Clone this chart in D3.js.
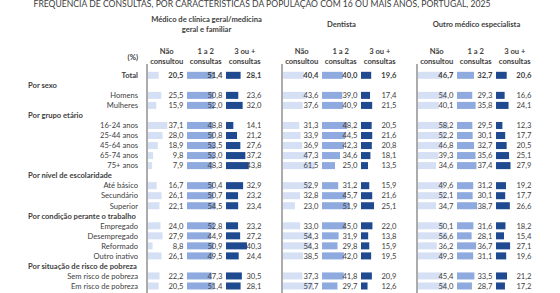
<!DOCTYPE html>
<html>
<head>
<meta charset="utf-8">
<script src="https://cdn.jsdelivr.net/npm/d3@7"></script>
<style>
    body { margin: 0; background: #fff; }
    text { font-family: Lato, "Liberation Sans", sans-serif; fill: #404040; }
</style>
</head>
<body>
<div id="chart"></div>
<script>
var title = "FREQUÊNCIA DE CONSULTAS, POR CARACTERÍSTICAS DA POPULAÇÃO COM 16 OU MAIS ANOS, PORTUGAL, 2025";

var groups = ["Médico de clínica geral/medicina|geral e familiar", "Dentista", "Outro médico especialista"];
var columns = ["Não|consultou", "1 a 2|consultas", "3 ou +|consultas"];

// rows in display order, section titles included
var rowNames = ["Total",
    "Por sexo", "Homens", "Mulheres",
    "Por grupo etário", "16-24 anos", "25-44 anos", "45-64 anos", "65-74 anos", "75+ anos",
    "Por nível de escolaridade", "Até básico", "Secundário", "Superior",
    "Por condição perante o trabalho", "Empregado", "Desempregado", "Reformado", "Outro inativo",
    "Por situação de risco de pobreza", "Sem risco de pobreza", "Em risco de pobreza"];
var sections = ["Por sexo", "Por grupo etário", "Por nível de escolaridade",
    "Por condição perante o trabalho", "Por situação de risco de pobreza"];

// values per data row: [não consultou, 1 a 2, 3 ou +]
var medico = [[20.5, 51.4, 28.1],
    [25.5, 50.8, 23.6], [15.9, 52.0, 32.0],
    [37.1, 48.8, 14.1], [28.0, 50.8, 21.2], [18.9, 53.5, 27.6], [9.8, 53.0, 37.2], [7.9, 48.3, 43.8],
    [16.7, 50.4, 32.9], [26.1, 50.7, 23.2], [22.1, 54.5, 23.4],
    [24.0, 52.8, 23.2], [27.9, 44.9, 27.2], [8.8, 50.9, 40.3], [26.1, 49.5, 24.4],
    [22.2, 47.3, 30.5], [20.5, 51.4, 28.1]];
var dentista = [[40.4, 40.0, 19.6],
    [43.6, 39.0, 17.4], [37.6, 40.9, 21.5],
    [31.3, 48.2, 20.5], [33.9, 44.5, 21.6], [36.9, 42.3, 20.8], [47.3, 34.6, 18.1], [61.5, 25.0, 13.5],
    [52.9, 31.2, 15.9], [32.8, 45.7, 21.6], [23.0, 51.9, 25.1],
    [33.0, 45.0, 22.0], [54.3, 31.9, 13.8], [54.3, 29.8, 15.9], [38.5, 42.0, 19.5],
    [37.3, 41.8, 20.9], [57.7, 29.7, 12.6]];
var outro = [[46.7, 32.7, 20.6],
    [54.0, 29.3, 16.6], [40.1, 35.8, 24.1],
    [58.2, 29.5, 12.3], [52.2, 30.1, 17.7], [46.8, 32.7, 20.5], [39.3, 35.6, 25.1], [34.6, 37.4, 27.9],
    [49.6, 31.2, 19.2], [52.1, 30.1, 17.7], [34.7, 38.7, 26.6],
    [50.1, 31.6, 18.2], [56.6, 28.1, 15.4], [36.2, 36.7, 27.1], [49.3, 31.1, 19.6],
    [45.4, 33.5, 21.2], [54.0, 28.7, 17.2]];

var colors = ["#d6e0f5", "#8eaadf", "#1f4a8f"];

var svg = d3.select("#chart").append("svg")
    .attr("width", 560)
    .attr("height", 293);

var dataRows = rowNames.filter(function (d) { return sections.indexOf(d) == -1; });

var y = d3.scaleBand()
    .domain(rowNames)
    .range([70.3, 291])
    .paddingInner(0.3)
    .paddingOuter(0.15);

var gx = d3.scalePoint()
    .domain(groups)
    .range([148, 418]);

// each column takes 75 units of the group's width
var colUnits = 75;
var unit = 0.52;

function xScale(g) {
    var x0 = gx(g);
    return d3.scaleLinear().domain([0, 3 * colUnits]).range([x0, x0 + 3 * colUnits * unit]);
}

// title (sits right at the top edge)
svg.append("text")
    .attr("x", 262)
    .attr("y", 6.8)
    .attr("text-anchor", "middle")
    .style("font-size", "8.6px")
    .text(title);

svg.append("text")
    .attr("x", 138)
    .attr("y", 60)
    .attr("text-anchor", "end")
    .style("font-size", "7.6px")
    .style("font-weight", "bold")
    .text("(%)");

// row labels
svg.selectAll(".rowlabel")
    .data(rowNames)
    .enter()
    .append("text")
    .attr("class", "rowlabel")
    .attr("x", function (d) { return sections.indexOf(d) == -1 ? 138 : 28; })
    .attr("y", function (d) { return y(d) + y.bandwidth() / 2 + 2.8; })
    .attr("text-anchor", function (d) { return sections.indexOf(d) == -1 ? "end" : "start"; })
    .style("font-size", "7.6px")
    .style("font-weight", function (d) { return (sections.indexOf(d) != -1 || d == "Total") ? "bold" : "normal"; })
    .text(function (d) { return d; });

var groupData = [medico, dentista, outro];

groups.forEach(function (g, gi) {
    var x = xScale(g);
    var grp = svg.append("g");

    //group title
    var lines = g.split("|");
    var gy = lines.length > 1 ? 22 : 27;
    lines.forEach(function (l, li) {
        grp.append("text")
            .attr("x", x(3 * colUnits / 2))
            .attr("y", gy + li * 10)
            .attr("text-anchor", "middle")
            .style("font-size", "7.6px")
            .style("font-weight", "bold")
            .text(l);
    });

    //column headers
    columns.forEach(function (c, ci) {
        c.split("|").forEach(function (l, li) {
            grp.append("text")
                .attr("x", x(ci * colUnits + 36))
                .attr("y", 54 + li * 10)
                .attr("text-anchor", "middle")
                .style("font-size", "7.6px")
                .style("font-weight", "bold")
                .text(l);
        });
    });

    //bars
    groupData[gi].forEach(function (vals, ri) {
        var row = dataRows[ri];
        vals.forEach(function (v, ci) {
            grp.append("rect")
                .attr("x", x(ci * colUnits))
                .attr("y", y(row))
                .attr("width", x(ci * colUnits + v) - x(ci * colUnits))
                .attr("height", y.bandwidth())
                .attr("fill", colors[ci]);
        });
    });

    //value labels
    groupData[gi].forEach(function (vals, ri) {
        var row = dataRows[ri];
        vals.forEach(function (v, ci) {
            grp.append("text")
                .attr("x", x((ci + 1) * colUnits - 7))
                .attr("y", y(row) + y.bandwidth() / 2 + 2.8)
                .attr("text-anchor", "end")
                .style("font-size", "7.6px")
                .style("font-weight", row == "Total" ? "bold" : "normal")
                .text(d3.format(".1f")(v).replace(".", ","));
        });
    });

    //axis line
    grp.append("line")
        .attr("x1", x(0) - 1)
        .attr("x2", x(0) - 1)
        .attr("y1", 64)
        .attr("y2", 293)
        .style("stroke", "#595959")
        .style("stroke-width", 1);
});
</script>
</body>
</html>
